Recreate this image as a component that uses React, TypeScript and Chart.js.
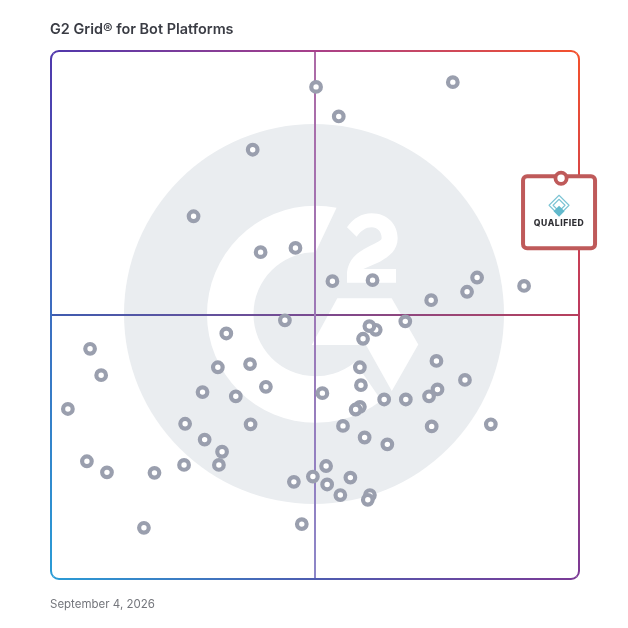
import { useEffect, useRef } from "react";
import Chart from "chart.js/auto";

const title = "G2 Grid® for Bot Platforms";
const dateLabel = "September 4, 2026";
const featuredName = "QUALIFIED";

// satisfaction (x) and market presence (y) scores, 0-100
const vendorX = [
  76.1, 50.2, 54.5, 38.2, 27.0, 39.7, 46.3, 53.3, 60.9, 72.0, 78.8, 80.7, 89.6, 44.3, 33.2, 61.5,
  60.3, 59.1, 67.1, 7.4, 9.5, 3.2, 73.0, 58.5, 58.7, 31.6, 37.7, 40.7, 28.7, 35.0, 51.4, 58.5,
  57.7, 63.1, 67.2, 73.2, 71.6, 78.4, 83.3, 72.1, 55.3, 59.4, 63.7, 25.4, 37.8, 29.1, 32.4, 25.2,
  31.8, 19.6, 10.6, 6.8, 46.0, 52.1, 49.6, 52.3, 56.7, 54.8, 60.4, 60.0, 47.5, 17.6,
];
const vendorY = [
  94.1, 93.2, 87.6, 81.3, 68.7, 61.9, 62.7, 56.4, 56.6, 52.8, 54.4, 57.1, 55.5, 49.0, 46.5, 47.2,
  47.9, 45.5, 48.8, 43.6, 38.6, 32.2, 41.3, 40.1, 36.7, 40.1, 40.7, 36.4, 35.4, 34.6, 35.2, 32.6,
  32.1, 34.0, 34.0, 35.9, 34.6, 37.7, 29.3, 28.9, 29.0, 26.8, 25.5, 29.4, 29.3, 26.4, 24.1, 21.6,
  21.6, 20.1, 20.2, 22.3, 18.4, 21.4, 19.4, 17.9, 19.2, 15.9, 15.9, 15.0, 10.4, 9.7,
];
const featuredX = [96.6];
const featuredY = [75.9];

const FONT = "Inter, 'Noto Sans', sans-serif";
const deg = (d: number) => (d * Math.PI) / 180;

// the faint G2 badge behind the points
const logoPlugin = {
  id: "logo",
  beforeDraw(chart: any) {
    const ctx = chart.ctx;
    ctx.save();
    ctx.fillStyle = "#fff";
    ctx.fillRect(0, 0, chart.width, chart.height);

    ctx.fillStyle = "#eaedf0";
    ctx.beginPath();
    ctx.arc(314, 314, 190, 0, Math.PI * 2);
    ctx.fill();

    ctx.fillStyle = "#fff";
    // the G
    ctx.beginPath();
    ctx.arc(315.5, 314.2, 108.5, deg(-78.8), deg(52.6), true);
    ctx.lineTo(355.5, 363);
    ctx.arc(315.5, 314.2, 62, deg(51), deg(-90), false);
    ctx.closePath();
    ctx.fill();

    // the chevron
    ctx.beginPath();
    ctx.moveTo(337.3, 298.3);
    ctx.lineTo(391.7, 298.3);
    ctx.lineTo(418.3, 344.5);
    ctx.lineTo(391.8, 391);
    ctx.lineTo(366, 345);
    ctx.lineTo(311.7, 345);
    ctx.closePath();
    ctx.fill();

    // the 2
    ctx.translate(300, 195);
    ctx.scale(1 / 3, 1 / 3);
    ctx.beginPath();
    ctx.moveTo(141, 97);
    ctx.bezierCurveTo(160, 70, 185, 55, 215, 55);
    ctx.bezierCurveTo(262, 55, 293, 88, 293, 130);
    ctx.bezierCurveTo(293, 165, 268, 185, 240, 200);
    ctx.lineTo(190, 222);
    ctx.lineTo(288, 222);
    ctx.lineTo(288, 263);
    ctx.lineTo(141, 263);
    ctx.lineTo(141, 232);
    ctx.bezierCurveTo(145, 195, 170, 172, 205, 155);
    ctx.bezierCurveTo(230, 143, 245, 137, 245, 130);
    ctx.bezierCurveTo(245, 110, 232, 97, 215, 97);
    ctx.bezierCurveTo(198, 97, 183, 107, 170, 125);
    ctx.closePath();
    ctx.fill();
    ctx.restore();
  },
};

const frameGradient = (ctx: any, x0: number, y0: number, x1: number, y1: number, stops: string[]) => {
  const g = ctx.createLinearGradient(x0, y0, x1, y1);
  stops.forEach((c, i) => g.addColorStop(i / (stops.length - 1), c));
  return g;
};

// frame, quadrant lines and the featured vendor's card
const framePlugin = {
  id: "frame",
  beforeDatasetsDraw(chart: any) {
    const { ctx, chartArea, scales } = chart;
    const { left, right, top, bottom } = chartArea;
    const midX = scales.x.getPixelForValue(50);
    const midY = scales.y.getPixelForValue(50);
    const r = 8;
    ctx.save();
    ctx.lineWidth = 2;

    // quadrant lines
    ctx.strokeStyle = frameGradient(ctx, left, 0, right, 0, ["#3f5cb0", "#7a4a90", "#b8405c"]);
    ctx.beginPath();
    ctx.moveTo(left, midY);
    ctx.lineTo(right, midY);
    ctx.stroke();
    ctx.strokeStyle = frameGradient(ctx, 0, top, 0, bottom, ["#ad6aa6", "#8c86c8"]);
    ctx.beginPath();
    ctx.moveTo(midX, top);
    ctx.lineTo(midX, bottom);
    ctx.stroke();

    // frame, one side at a time so each corner keeps its colour
    ctx.lineCap = "butt";
    ctx.strokeStyle = frameGradient(ctx, left, 0, right, 0, ["#5038ac", "#a8408a", "#f4512c"]);
    ctx.beginPath();
    ctx.arc(left + r, top + r, r, deg(225), deg(270));
    ctx.arc(right - r, top + r, r, deg(270), deg(315));
    ctx.stroke();
    ctx.strokeStyle = frameGradient(ctx, 0, top, 0, bottom, ["#f4512c", "#bc3a60", "#7b3a96"]);
    ctx.beginPath();
    ctx.arc(right - r, top + r, r, deg(315), deg(360));
    ctx.arc(right - r, bottom - r, r, 0, deg(45));
    ctx.stroke();
    ctx.strokeStyle = frameGradient(ctx, left, 0, right, 0, ["#2a9cd6", "#4e5cb0", "#7b3a96"]);
    ctx.beginPath();
    ctx.arc(right - r, bottom - r, r, deg(45), deg(90));
    ctx.arc(left + r, bottom - r, r, deg(90), deg(135));
    ctx.stroke();
    ctx.strokeStyle = frameGradient(ctx, 0, top, 0, bottom, ["#5038ac", "#3c6ec0", "#2a9cd6"]);
    ctx.beginPath();
    ctx.arc(left + r, bottom - r, r, deg(135), deg(180));
    ctx.arc(left + r, top + r, r, deg(180), deg(225));
    ctx.stroke();

    // card under the featured point
    const px = scales.x.getPixelForValue(featuredX[0]);
    const py = scales.y.getPixelForValue(featuredY[0]);
    ctx.beginPath();
    ctx.roundRect(px - 38, py - 2, 72, 72, 4);
    ctx.fillStyle = "#fff";
    ctx.fill();
    ctx.lineWidth = 4;
    ctx.strokeStyle = "#bf5a5a";
    ctx.stroke();

    // small diamond mark on the card
    const cx = px - 2;
    const diamond = (cy: number, half: number) => {
      ctx.beginPath();
      ctx.moveTo(cx, cy - half);
      ctx.lineTo(cx + half, cy);
      ctx.lineTo(cx, cy + half);
      ctx.lineTo(cx - half, cy);
      ctx.closePath();
    };
    ctx.lineJoin = "round";
    ctx.lineWidth = 1.1;
    ctx.strokeStyle = "#7cc4d4";
    diamond(py + 27, 10);
    ctx.stroke();
    diamond(py + 27, 6);
    ctx.stroke();
    ctx.fillStyle = "#62b9cc";
    diamond(py + 33, 5.5);
    ctx.fill();

    ctx.fillStyle = "#2e2e33";
    ctx.font = `800 8.6px ${FONT}`;
    ctx.letterSpacing = "0.55px";
    ctx.textAlign = "center";
    ctx.textBaseline = "alphabetic";
    ctx.fillText(featuredName, cx, py + 48);
    ctx.restore();
  },
  afterDraw(chart: any) {
    const ctx = chart.ctx;
    ctx.save();
    ctx.textAlign = "left";
    ctx.textBaseline = "alphabetic";
    ctx.fillStyle = "#3a3c44";
    ctx.font = `600 14.45px ${FONT}`;
    ctx.fillText(title, 50, 34);
    ctx.fillStyle = "#74767c";
    ctx.font = `400 11.5px ${FONT}`;
    ctx.fillText(dateLabel, 50, 608);
    ctx.restore();
  },
};

const App = () => {
  const chartRef: any = useRef(null);
  useEffect(() => {
    const theChart = new Chart(chartRef.current, {
      type: "scatter",
      data: {
        datasets: [
          {
            label: "Vendors",
            data: vendorX.map((x, i) => ({ x, y: vendorY[i] })),
            backgroundColor: "#fff",
            borderColor: "#9a9fae",
            borderWidth: 4.2,
            pointRadius: 4.8,
            order: 2,
          },
          {
            label: "Qualified",
            data: featuredX.map((x, i) => ({ x, y: featuredY[i] })),
            backgroundColor: "#fff",
            borderColor: "#bf5a5a",
            borderWidth: 3.8,
            pointRadius: 5.6,
            order: 1,
          },
        ],
      },
      options: {
        responsive: false,
        animation: false,
        layout: { padding: { left: 51, right: 49, top: 51, bottom: 49 } },
        plugins: { legend: { display: false }, tooltip: { enabled: false } },
        scales: {
          x: { type: "linear", min: 0, max: 100, display: false },
          y: { type: "linear", min: 0, max: 100, display: false },
        },
      },
      plugins: [logoPlugin, framePlugin],
    });
    return () => { theChart.destroy() };
  }, []);

  return (
    <div style={{ position: "fixed", left: 0, top: 0, width: 628, height: 628 }}>
      <canvas ref={chartRef} width={628} height={628} style={{ display: "block" }} />
    </div>
  );
};

export default App;
